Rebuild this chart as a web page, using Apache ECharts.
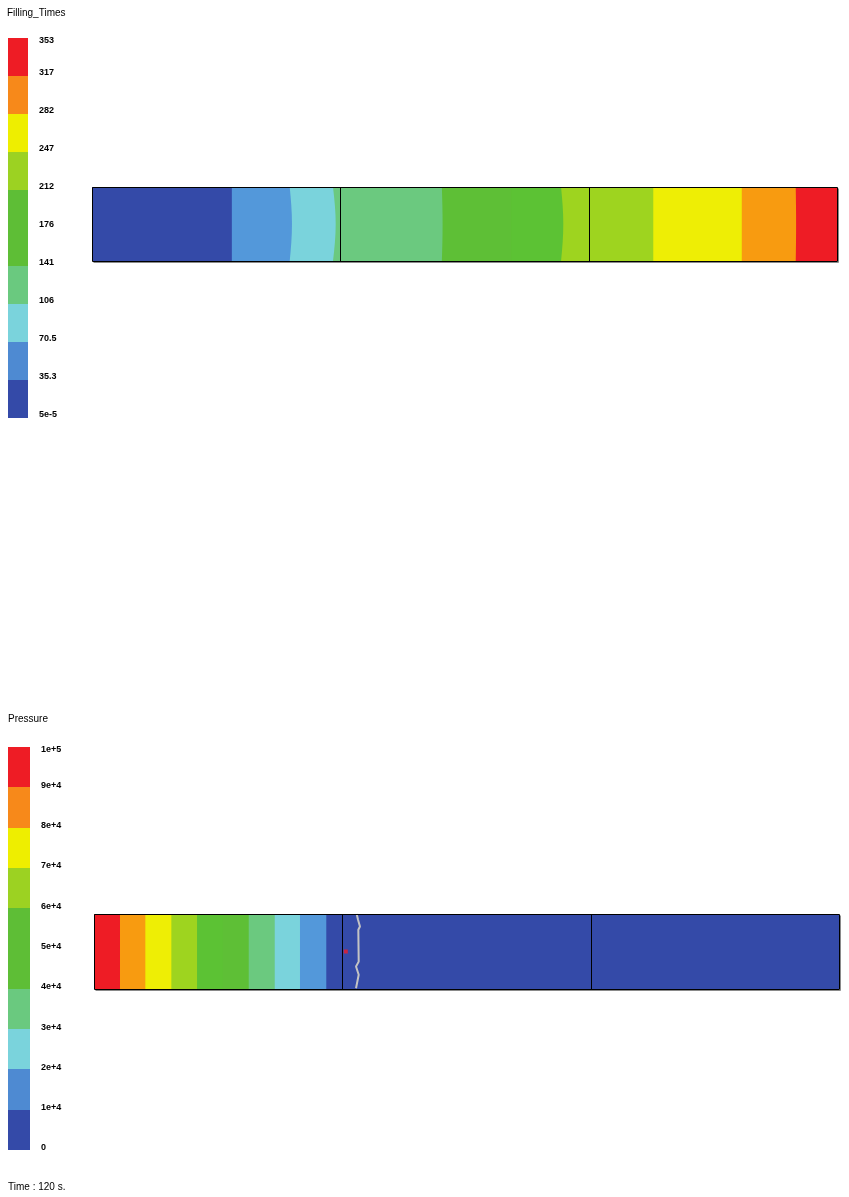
<!DOCTYPE html>
<html>
<head>
<meta charset="utf-8">
<script src="https://cdn.jsdelivr.net/npm/echarts@6/dist/echarts.min.js"></script>
<style>
html,body{margin:0;padding:0;background:#fff;}
#chart{width:849px;height:1197px;}
</style>
</head>
<body>
<div id="chart"></div>
<script>
// ---------- data ----------
// legend tick labels, from bottom (index 0) to top (index 10)
const fillLabels = ['5e-5', '35.3', '70.5', '106', '141', '176', '212', '247', '282', '317', '353'];
const pressureLabels = ['0', '1e+4', '2e+4', '3e+4', '4e+4', '5e+4', '6e+4', '7e+4', '8e+4', '9e+4', '1e+5'];
const legendBands = [0, 1, 2, 3, 4, 5, 6, 7, 8, 9];

// filling times along the part (position in % of part length)
const fillBounds = [0, 18.77, 26.54, 32.35, 46.96, 56.26, 62.96, 75.34, 87.22, 94.46, 100];
const fillBulge  = [0, 0, 0.3, 0.36, 0.1, 0, 0.3, 0, 0, 0.05, 0];
const fillBands  = [0, 1, 2, 3, 4, 5, 6, 7, 8, 9];

// pressure along the part at t = 120 s
const pressureBounds = [0, 3.49, 6.89, 10.38, 13.83, 17.27, 20.77, 24.26, 27.65, 31.18, 100];
const pressureBulge  = [0, 0, 0, 0, 0, 0, 0, 0, 0, 0, 0];
const pressureBands  = [9, 8, 7, 6, 5, 4, 3, 2, 1, 0];

// section joints (position in %)
const sectionJoints = [33.3, 66.65];

// flow front (x %, y fraction of thickness from top)
const flowFront = [[35.26, 0], [35.44, 0.076], [35.70, 0.166], [35.48, 0.21], [35.53, 0.635], [35.17, 0.70], [35.53, 0.81], [35.17, 0.99]];
// sensor marker
const sensorPoint = [[33.8, 0.5]];

// ---------- styles ----------
const legendColors = ['#344AA8', '#4E8AD2', '#7AD3DC', '#6AC97F', '#5EBE36', '#5EBE36', '#9CD222', '#EEEE00', '#F7891A', '#EE1C25'];
const fieldColors  = ['#344AA8', '#5398DA', '#7AD3DC', '#6BC97F', '#5EBF36', '#5CC234', '#9ED41F', '#EEEE05', '#F89B10', '#EE1C25'];
const FONT = 'Liberation Sans, Arial, sans-serif';

function legendBandSeries(axis) {
  return {
    type: 'custom', xAxisIndex: axis, yAxisIndex: axis, silent: true,
    data: legendBands.map(k => [k]),
    renderItem: function (params, api) {
      const k = api.value(0);
      const p0 = api.coord([0, k + 1]);
      const p1 = api.coord([1, k]);
      const x0 = Math.round(p0[0]), y0 = Math.round(p0[1]);
      const x1 = Math.round(p1[0]), y1 = Math.round(p1[1]);
      return { type: 'rect', shape: { x: x0, y: y0, width: x1 - x0, height: y1 - y0 },
               style: { fill: legendColors[k], stroke: null } };
    }
  };
}

function legendLabelSeries(axis, labels, offTop, offMid, offBottom) {
  return {
    type: 'custom', xAxisIndex: axis, yAxisIndex: axis, silent: true,
    data: labels.map((t, k) => [k]),
    renderItem: function (params, api) {
      const k = api.value(0);
      const p = api.coord([1, k]);
      const off = k === labels.length - 1 ? offTop : (k === 0 ? offBottom : offMid);
      return { type: 'text', x: p[0] + 11, y: p[1] + off,
               style: { text: labels[k], fill: '#000', font: 'bold 9px ' + FONT, align: 'left', verticalAlign: 'middle' } };
    }
  };
}

function edgePoints(api, xv, bulge, fromTop) {
  const pts = [];
  const n = 8;
  for (let i = 0; i <= n; i++) {
    const t = fromTop ? i / n : 1 - i / n;
    pts.push(api.coord([xv + bulge * Math.sin(Math.PI * t), t]));
  }
  return pts;
}

// each zone is painted from its own front to the far end; later zones cover earlier ones
function fieldSeries(axis, bounds, bulge, bands) {
  const end = bounds[bounds.length - 1];
  return {
    type: 'custom', xAxisIndex: axis, yAxisIndex: axis, silent: true,
    data: bands.map((b, i) => [i]),
    renderItem: function (params, api) {
      const i = api.value(0);
      const left = edgePoints(api, bounds[i], bulge[i], true);
      const right = [api.coord([end, 1]), api.coord([end, 0])];
      return { type: 'polygon', z2: i, shape: { points: left.concat(right) },
               style: { fill: fieldColors[bands[i]], stroke: null } };
    }
  };
}

function outlineSeries(axis) {
  return {
    type: 'custom', xAxisIndex: axis, yAxisIndex: axis, silent: true, z: 5,
    data: [[0]],
    renderItem: function (params, api) {
      const a = api.coord([0, 0]);
      const b = api.coord([100, 1]);
      const x0 = Math.round(a[0]) + 0.5, y0 = Math.round(a[1]) + 0.5;
      const x1 = Math.round(b[0]) + 0.5, y1 = Math.round(b[1]) + 0.5;
      const children = [
        { type: 'line', shape: { x1: x1 + 1, y1: y0 + 1, x2: x1 + 1, y2: y1 + 1 }, style: { stroke: '#8a8a8a', lineWidth: 1 } },
        { type: 'line', shape: { x1: x0 + 1, y1: y1 + 1, x2: x1 + 1, y2: y1 + 1 }, style: { stroke: '#8a8a8a', lineWidth: 1 } },
        { type: 'rect', shape: { x: x0, y: y0, width: x1 - x0, height: y1 - y0 }, style: { fill: null, stroke: '#000', lineWidth: 1 } }
      ];
      sectionJoints.forEach(s => {
        const xs = Math.round(api.coord([s, 0])[0]) + 0.5;
        children.push({ type: 'line', shape: { x1: xs, y1: y0, x2: xs, y2: y1 }, style: { stroke: '#000', lineWidth: 1 } });
      });
      return { type: 'group', children: children };
    }
  };
}

const grids = [
  { left: 8, top: 38, width: 20, height: 380 },       // filling legend
  { left: 92, top: 187, width: 745, height: 74 },      // filling field
  { left: 8, top: 747, width: 22, height: 403 },       // pressure legend
  { left: 94, top: 914, width: 745, height: 75 }       // pressure field
];

const titleStyle = { fontSize: 10, fontWeight: 'normal', fontFamily: FONT, color: '#000', lineHeight: 10 };

const option = {
  animation: false,
  backgroundColor: '#fff',
  title: [
    { text: 'Filling_Times', left: 7, top: 8, padding: 0, textStyle: titleStyle },
    { text: 'Pressure', left: 8, top: 714, padding: 0, textStyle: titleStyle },
    { text: 'Time : 120 s.', left: 8, top: 1182, padding: 0, textStyle: titleStyle }
  ],
  grid: grids,
  xAxis: [
    { gridIndex: 0, type: 'value', min: 0, max: 1, show: false },
    { gridIndex: 1, type: 'value', min: 0, max: 100, show: false },
    { gridIndex: 2, type: 'value', min: 0, max: 1, show: false },
    { gridIndex: 3, type: 'value', min: 0, max: 100, show: false }
  ],
  yAxis: [
    { gridIndex: 0, type: 'value', min: 0, max: 10, show: false },
    { gridIndex: 1, type: 'value', min: 0, max: 1, inverse: true, show: false },
    { gridIndex: 2, type: 'value', min: 0, max: 10, show: false },
    { gridIndex: 3, type: 'value', min: 0, max: 1, inverse: true, show: false }
  ],
  series: [
    legendBandSeries(0),
    legendLabelSeries(0, fillLabels, 2.4, -3, -3),
    fieldSeries(1, fillBounds, fillBulge, fillBands),
    outlineSeries(1),
    legendBandSeries(2),
    legendLabelSeries(2, pressureLabels, 2.7, -2, -2.7),
    fieldSeries(3, pressureBounds, pressureBulge, pressureBands),
    {
      type: 'line', xAxisIndex: 3, yAxisIndex: 3, data: flowFront, showSymbol: false, silent: true, z: 4,
      lineStyle: { color: '#C4C4C4', width: 2 }
    },
    {
      type: 'scatter', xAxisIndex: 3, yAxisIndex: 3, data: sensorPoint, symbol: 'rect', symbolSize: 4, silent: true, z: 6,
      itemStyle: { color: '#EE1C25' }
    },
    outlineSeries(3)
  ]
};

const chart = echarts.init(document.getElementById('chart'), null, { renderer: 'canvas' });
chart.setOption(option);
</script>
</body>
</html>
